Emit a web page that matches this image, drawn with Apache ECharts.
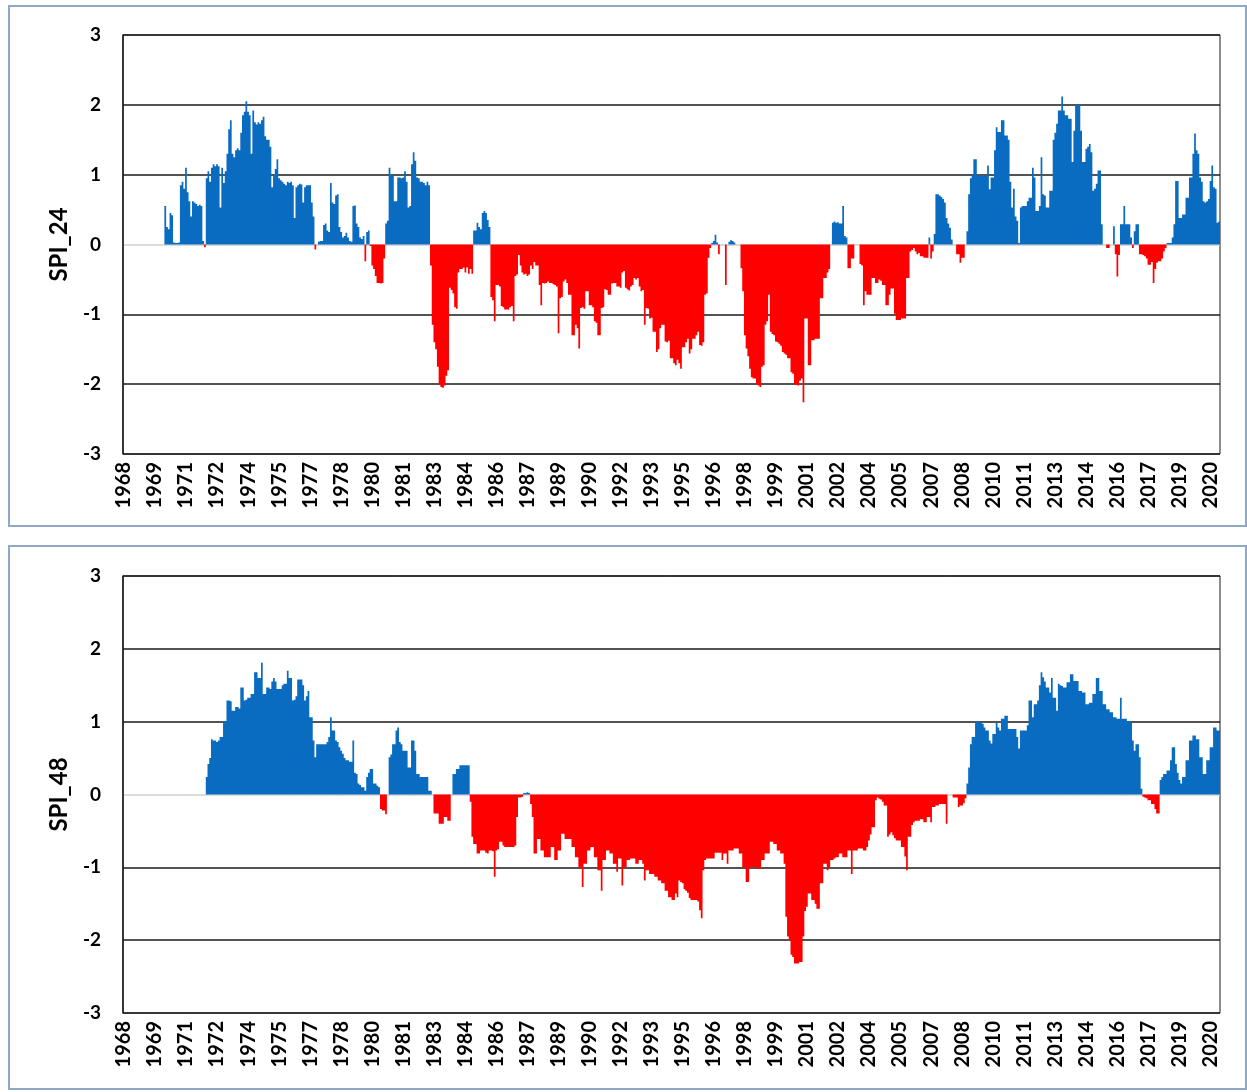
<!DOCTYPE html>
<html>
<head>
<meta charset="utf-8">
<title>SPI_24 / SPI_48</title>
<script src="https://cdn.jsdelivr.net/npm/echarts@6/dist/echarts.min.js"></script>
<style>
    body { margin: 0; background: #fff; }
    .panel { position: absolute; left: 8px; width: 1239px; box-sizing: border-box; border: 2px solid #8fa8c8; }
    #spi24 { top: 5px; height: 522px; }
    #spi48 { top: 545px; height: 545px; }
</style>
</head>
<body>
<div id="spi24" class="panel"></div>
<div id="spi48" class="panel"></div>
<script>
    /* 月份类目：1968.1 - 2020.12，每月一个，标签为年份 */
    const firstYear = 1968
    const lastYear = 2020
    let monthLabels = []
    for (let y = firstYear; y <= lastYear; y++) {
        for (let m = 0; m < 12; m++) monthLabels.push(String(y))
    }

    /* SPI_24 月值（每行一年，1-12月） */
    const spi24_1968_1979 = [
        [null, null, null, null, null, null, null, null, null, null, null, null],
        [null, null, null, null, null, null, null, null, null, null, null, null],
        [0.55, 0.25, 0.22, 0.45, 0.42, 0.03, 0.02, 0.02, 0.03, 0.85, 0.9, 0.8],
        [1.1, 0.75, 0.62, 0.4, 0.62, 0.6, 0.58, 0.55, 0.57, 0.55, 0.05, -0.04],
        [0.95, 1.05, 0.9, 1.1, 1.15, 1.12, 1.15, 1.12, 0.53, 1.1, 0.88, 1.05],
        [1.3, 1.65, 1.78, 1.3, 1.25, 1.35, 1.38, 1.35, 1.6, 1.85, 1.9, 2.05],
        [1.9, 1.85, 1.3, 1.92, 1.75, 1.72, 1.75, 1.73, 1.78, 1.83, 1.55, 1.5],
        [1.5, 1.4, 0.82, 1.0, 1.08, 1.22, 0.95, 0.92, 0.9, 0.87, 0.85, 0.9],
        [0.88, 0.9, 0.85, 0.38, 0.82, 0.85, 0.87, 0.86, 0.6, 0.82, 0.85, 0.85],
        [0.85, 0.6, 0.4, -0.07, 0.0, 0.04, 0.05, 0.05, 0.28, 0.3, 0.2, 0.18],
        [0.88, 0.6, 0.58, 0.7, 0.72, 0.25, 0.18, 0.1, 0.12, 0.17, 0.1, 0.05],
        [0.04, 0.55, 0.56, 0.3, 0.25, 0.1, 0.08, 0.12, -0.24, 0.18, 0.2, -0.02]
    ]
    const spi24_1980_1989 = [
        [-0.3, -0.35, -0.45, -0.55, -0.55, -0.56, -0.55, -0.2, 0.3, 0.34, 1.1, 1.0],
        [1.0, 0.62, 0.62, 0.96, 0.96, 0.95, 0.96, 1.05, 0.9, 0.53, 0.55, 1.15],
        [1.32, 1.2, 0.96, 0.95, 0.9, 0.9, 0.88, 0.85, 0.9, 0.85, -0.3, -1.15],
        [-1.4, -1.5, -1.75, -2.0, -2.04, -2.05, -2.02, -1.88, -1.8, -0.62, -0.65, -0.7],
        [-0.9, -0.92, -0.4, -0.35, -0.35, -0.33, -0.4, -0.33, -0.42, -0.35, -0.42, 0.2],
        [0.2, 0.31, 0.25, 0.22, 0.45, 0.48, 0.45, 0.35, 0.25, -0.75, -0.8, -1.1],
        [-0.58, -0.58, -0.6, -0.88, -0.9, -0.93, -0.93, -0.93, -0.9, -0.88, -1.1, -0.45],
        [-0.43, -0.15, -0.3, -0.4, -0.43, -0.42, -0.45, -0.43, -0.3, -0.35, -0.25, -0.3],
        [-0.3, -0.58, -0.87, -0.55, -0.56, -0.55, -0.53, -0.55, -0.55, -0.57, -0.58, -0.6],
        [-1.27, -0.77, -0.75, -0.53, -0.5, -0.55, -0.72, -0.72, -1.3, -1.3, -1.15, -1.2]
    ]
    const spi24_1990_1999 = [
        [-1.49, -0.91, -0.9, -0.92, -0.67, -0.67, -0.87, -0.87, -0.9, -1.1, -1.12, -1.3],
        [-1.3, -0.91, -0.9, -0.64, -0.65, -0.72, -0.72, -0.56, -0.55, -0.55, -0.6, -0.6],
        [-0.62, -0.4, -0.38, -0.62, -0.64, -0.66, -0.6, -0.58, -0.48, -0.5, -0.48, -0.6],
        [-0.67, -0.65, -1.15, -0.91, -0.92, -1.06, -1.05, -1.25, -1.25, -1.54, -1.5, -1.2],
        [-1.15, -1.15, -1.39, -1.4, -1.38, -1.63, -1.63, -1.7, -1.73, -1.65, -1.7, -1.78],
        [-1.47, -1.47, -1.4, -1.35, -1.56, -1.5, -1.35, -1.35, -1.3, -1.25, -1.44, -1.45],
        [-1.4, -0.72, -0.7, -0.19, -0.05, 0.02, 0.05, 0.14, 0.03, -0.14, 0.0, 0.0],
        [0.0, -0.58, 0.0, 0.04, 0.06, 0.05, 0.03, 0.0, 0.0, 0.0, -0.34, -0.67],
        [-1.3, -1.49, -1.6, -1.78, -1.9, -1.92, -1.92, -2.0, -2.02, -2.04, -1.75, -1.73],
        [-1.15, -1.1, -0.72, -1.25, -1.28, -1.3, -1.39, -1.4, -1.42, -1.45, -1.54, -1.56]
    ]
    const spi24_2000_2009 = [
        [-1.58, -1.63, -1.63, -1.83, -1.85, -2.0, -2.01, -2.02, -1.95, -1.92, -2.26, -1.06],
        [-1.06, -1.73, -1.73, -1.37, -1.37, -1.35, -1.35, -1.35, -0.77, -0.77, -0.48, -0.48],
        [-0.4, -0.35, 0.0, 0.31, 0.33, 0.31, 0.32, 0.3, 0.3, 0.55, 0.12, 0.1],
        [-0.34, -0.34, -0.2, -0.2, 0.0, 0.0, 0.0, -0.28, -0.3, -0.87, -0.67, -0.72],
        [-0.72, -0.72, -0.48, -0.48, -0.55, -0.55, -0.5, -0.52, -0.58, -0.58, -0.87, -0.87],
        [-0.72, -0.63, -0.63, -0.99, -1.08, -1.08, -1.08, -1.06, -1.06, -1.06, -0.48, -0.48],
        [-0.1, -0.08, -0.05, -0.1, -0.14, -0.12, -0.17, -0.17, -0.19, -0.19, -0.19, 0.1],
        [-0.2, -0.1, 0.15, 0.72, 0.72, 0.7, 0.68, 0.65, 0.6, 0.38, 0.3, 0.24],
        [0.07, 0.0, 0.0, -0.14, -0.14, -0.26, -0.19, -0.19, 0.0, 0.19, 0.72, 0.95],
        [1.0, 1.22, 1.22, 0.98, 0.98, 0.98, 1.0, 0.98, 0.98, 1.13, 0.79, 0.96]
    ]
    const spi24_2010_2020 = [
        [0.96, 1.35, 1.68, 1.61, 1.61, 1.78, 1.78, 1.56, 1.56, 1.5, 0.9, 0.53],
        [0.8, 0.4, 0.34, 0.02, 0.53, 0.55, 0.55, 0.55, 0.62, 0.67, 0.67, 1.1],
        [0.96, 0.48, 0.48, 0.55, 1.25, 0.72, 0.7, 0.53, 0.53, 0.77, 0.77, 1.5],
        [1.6, 1.73, 1.92, 1.92, 2.12, 1.92, 1.85, 1.85, 1.8, 1.8, 1.18, 1.63],
        [2.0, 2.0, 2.0, 1.63, 1.18, 1.18, 1.37, 1.4, 1.44, 1.32, 0.77, 0.8],
        [0.87, 1.06, 1.06, 0.29, 0.0, 0.0, -0.05, -0.05, 0.0, 0.0, 0.26, -0.14],
        [-0.46, -0.15, 0.29, 0.29, 0.55, 0.29, 0.29, 0.29, 0.1, -0.05, 0.19, 0.29],
        [0.29, -0.14, -0.14, -0.15, -0.17, -0.2, -0.29, -0.29, -0.25, -0.55, -0.35, -0.26],
        [-0.24, -0.24, -0.2, -0.1, -0.05, 0.02, 0.02, 0.02, 0.1, 0.29, 0.91, 0.91],
        [0.38, 0.38, 0.43, 0.43, 0.67, 0.67, 0.96, 0.96, 1.3, 1.59, 1.35, 1.3],
        [0.96, 0.9, 0.62, 0.6, 0.62, 0.65, 0.91, 1.13, 0.82, 0.8, 0.31, 0.33]
    ]

    /* SPI_48 月值 */
    const spi48_1968_1979 = [
        [null, null, null, null, null, null, null, null, null, null, null, null],
        [null, null, null, null, null, null, null, null, null, null, null, null],
        [null, null, null, null, null, null, null, null, null, null, null, null],
        [null, null, null, null, null, null, null, null, null, null, null, null],
        [0.24, 0.42, 0.5, 0.76, 0.74, 0.74, 0.72, 0.74, 0.79, 0.79, 1.01, 1.0],
        [1.29, 1.29, 1.28, 1.15, 1.15, 1.2, 1.2, 1.18, 1.47, 1.47, 1.29, 1.3],
        [1.33, 1.33, 1.38, 1.38, 1.68, 1.68, 1.6, 1.6, 1.81, 1.38, 1.38, 1.47],
        [1.47, 1.45, 1.55, 1.6, 1.55, 1.45, 1.45, 1.45, 1.5, 1.52, 1.52, 1.7],
        [1.6, 1.6, 1.29, 1.3, 1.35, 1.58, 1.58, 1.58, 1.5, 1.29, 1.35, 1.42],
        [1.06, 1.06, 0.74, 0.51, 0.69, 0.69, 0.69, 0.69, 0.69, 0.69, 0.72, 0.79],
        [1.06, 0.88, 0.88, 0.74, 0.72, 0.65, 0.6, 0.56, 0.5, 0.47, 0.47, 0.45],
        [0.45, 0.74, 0.3, 0.28, 0.15, 0.13, 0.1, 0.1, 0.05, 0.24, 0.3, 0.35]
    ]
    const spi48_1980_1989 = [
        [0.35, 0.15, 0.15, 0.12, 0.1, -0.2, -0.22, -0.22, -0.27, 0.0, 0.51, 0.55],
        [0.69, 0.69, 0.88, 0.92, 0.72, 0.69, 0.6, 0.6, 0.6, 0.37, 0.37, 0.74],
        [0.74, 0.6, 0.28, 0.28, 0.24, 0.24, 0.24, 0.24, 0.24, 0.05, 0.05, 0.0],
        [-0.26, -0.26, -0.26, -0.4, -0.4, -0.4, -0.31, -0.31, -0.36, -0.36, 0.0, 0.28],
        [0.28, 0.35, 0.35, 0.4, 0.4, 0.4, 0.4, 0.4, 0.4, -0.1, -0.58, -0.68],
        [-0.68, -0.81, -0.81, -0.77, -0.77, -0.77, -0.8, -0.81, -0.77, -0.77, -0.78, -1.13],
        [-0.77, -0.75, -0.65, -0.65, -0.7, -0.72, -0.72, -0.72, -0.72, -0.72, -0.72, -0.7],
        [-0.31, -0.04, -0.04, -0.03, 0.02, 0.02, 0.03, 0.02, -0.13, -0.31, -0.81, -0.81],
        [-0.61, -0.61, -0.77, -0.77, -0.86, -0.86, -0.86, -0.86, -0.72, -0.72, -0.9, -0.9],
        [-0.77, -0.77, -0.54, -0.54, -0.61, -0.61, -0.61, -0.61, -0.72, -0.72, -0.86, -0.86]
    ]
    const spi48_1990_1999 = [
        [-1.0, -1.0, -1.27, -0.95, -0.95, -0.77, -0.77, -0.72, -0.72, -0.86, -0.86, -1.04],
        [-1.04, -1.32, -0.9, -0.9, -0.77, -0.77, -0.81, -0.81, -0.95, -0.95, -1.06, -0.88],
        [-0.88, -1.25, -1.0, -1.0, -0.9, -0.9, -0.88, -0.88, -0.88, -0.95, -0.95, -0.9],
        [-0.9, -0.95, -1.18, -1.04, -1.04, -1.09, -1.09, -1.09, -1.13, -1.13, -1.18, -1.18],
        [-1.22, -1.22, -1.32, -1.32, -1.41, -1.41, -1.45, -1.45, -1.36, -1.41, -1.18, -1.2],
        [-1.22, -1.3, -1.32, -1.35, -1.42, -1.45, -1.45, -1.45, -1.45, -1.47, -1.59, -1.7],
        [-1.04, -0.9, -0.88, -0.88, -0.88, -0.88, -0.88, -0.8, -0.8, -0.8, -0.8, -0.9],
        [-0.81, -0.81, -0.95, -0.77, -0.77, -0.77, -0.74, -0.74, -0.74, -0.81, -0.81, -1.0],
        [-1.0, -1.2, -1.2, -1.0, -1.0, -1.0, -1.0, -1.0, -1.02, -1.02, -0.9, -0.9],
        [-0.81, -0.81, -0.81, -0.65, -0.65, -0.68, -0.68, -0.77, -0.77, -0.81, -0.81, -0.95]
    ]
    const spi48_2000_2009 = [
        [-1.68, -1.95, -2.0, -2.2, -2.23, -2.32, -2.32, -2.32, -2.3, -2.3, -1.95, -1.6],
        [-1.54, -1.36, -1.36, -1.45, -1.45, -1.5, -1.57, -1.57, -1.22, -1.22, -0.95, -0.95],
        [-1.04, -1.0, -0.9, -0.9, -0.88, -0.86, -0.86, -0.81, -0.81, -0.86, -0.86, -0.86],
        [-0.77, -0.77, -1.09, -0.77, -0.77, -0.77, -0.74, -0.74, -0.74, -0.77, -0.77, -0.72],
        [-0.63, -0.55, -0.45, -0.45, -0.08, -0.04, -0.06, -0.07, -0.1, -0.15, -0.15, -0.58],
        [-0.55, -0.52, -0.56, -0.6, -0.63, -0.63, -0.63, -0.72, -0.72, -0.85, -1.04, -0.58],
        [-0.58, -0.42, -0.38, -0.36, -0.36, -0.36, -0.34, -0.34, -0.38, -0.38, -0.31, -0.31],
        [-0.38, -0.17, -0.17, -0.15, -0.15, -0.13, -0.13, -0.13, -0.13, -0.4, 0.0, 0.0],
        [0.0, -0.04, -0.04, -0.04, -0.17, -0.15, -0.15, -0.12, -0.05, 0.15, 0.37, 0.69],
        [0.79, 0.79, 1.0, 1.01, 0.99, 0.99, 0.97, 0.92, 0.88, 0.88, 0.74, 0.7]
    ]
    const spi48_2010_2020 = [
        [0.83, 0.83, 0.99, 0.92, 0.88, 1.04, 1.04, 1.08, 1.08, 0.9, 0.9, 0.9],
        [0.9, 0.9, 0.79, 0.63, 0.88, 0.88, 0.88, 0.88, 0.95, 1.29, 1.29, 1.06],
        [1.24, 1.24, 1.29, 1.5, 1.68, 1.61, 1.55, 1.47, 1.47, 1.4, 1.6, 1.33],
        [1.33, 1.15, 1.52, 1.5, 1.49, 1.47, 1.47, 1.54, 1.54, 1.65, 1.65, 1.56],
        [1.56, 1.56, 1.42, 1.42, 1.4, 1.4, 1.24, 1.24, 1.26, 1.26, 1.38, 1.38],
        [1.6, 1.6, 1.42, 1.42, 1.24, 1.24, 1.17, 1.17, 1.13, 1.13, 1.06, 1.06],
        [1.04, 1.04, 1.33, 1.04, 1.04, 1.04, 1.01, 1.01, 0.99, 0.74, 0.6, 0.69],
        [0.69, 0.51, 0.08, -0.03, -0.04, -0.05, -0.08, -0.08, -0.13, -0.13, -0.2, -0.26],
        [-0.26, 0.2, 0.24, 0.28, 0.28, 0.33, 0.33, 0.47, 0.65, 0.65, 0.42, 0.3],
        [0.2, 0.15, 0.24, 0.24, 0.47, 0.47, 0.74, 0.74, 0.81, 0.81, 0.76, 0.76],
        [0.51, 0.51, 0.28, 0.28, 0.47, 0.47, 0.65, 0.65, 0.92, 0.92, 0.88, 0.88]
    ]

    const spi24 = [].concat(spi24_1968_1979, spi24_1980_1989, spi24_1990_1999, spi24_2000_2009, spi24_2010_2020).flat()
    const spi48 = [].concat(spi48_1968_1979, spi48_1980_1989, spi48_1990_1999, spi48_2000_2009, spi48_2010_2020).flat()

    const yTicks = [-3, -2, -1, 0, 1, 2, 3]
    const wetColor = '#0a6cc0'
    const dryColor = '#ff0000'

    /* 公共绘图方法 */
    function drawSPI (id, name, values, top, height) {
        const chart = echarts.init(document.getElementById(id))
        // 零线为浅灰，其余网格线黑色
        let lineColors = yTicks.map((v) => v === 0 ? '#cfcfcf' : '#1a1a1a')
        // 正值蓝色、负值红色，分成两个系列
        let wet = values.map((v) => v !== null && v >= 0 ? v : '-')
        let dry = values.map((v) => v !== null && v < 0 ? v : '-')
        const font = { fontFamily: 'Lato', fontWeight: 'bold', color: '#000' }
        chart.setOption({
            animation: false,
            grid: {
                left: 113,
                top: top,
                width: 1097,
                height: height,
                show: true,
                borderColor: '#1a1a1a',
                borderWidth: 1
            },
            xAxis: {
                type: 'category',
                data: monthLabels,
                axisLine: { show: false, onZero: false },
                axisTick: { show: false },
                axisLabel: Object.assign({ interval: 17, rotate: 90, margin: 8, fontSize: 20 }, font)
            },
            yAxis: {
                type: 'value',
                min: -3,
                max: 3,
                interval: 1,
                name: name,
                nameLocation: 'middle',
                nameRotate: 90,
                nameGap: 52,
                nameTextStyle: Object.assign({ fontSize: 24 }, font),
                axisLine: { show: true, lineStyle: { color: '#1a1a1a', width: 1.5 } },
                axisTick: { show: false },
                axisLabel: Object.assign({ margin: 22, fontSize: 19 }, font),
                splitLine: { lineStyle: { color: lineColors, width: 1.5 } }
            },
            // large 模式下整列一次描边，相邻柱之间不会出现白缝
            series: [
                {
                    type: 'bar',
                    stack: 'spi',
                    large: true,
                    largeThreshold: 100,
                    data: wet,
                    barCategoryGap: '0%',
                    itemStyle: { color: wetColor }
                },
                {
                    type: 'bar',
                    stack: 'spi',
                    large: true,
                    largeThreshold: 100,
                    data: dry,
                    barCategoryGap: '0%',
                    itemStyle: { color: dryColor }
                }
            ]
        })
    }

    drawSPI('spi24', 'SPI_24', spi24, 28, 419)
    drawSPI('spi48', 'SPI_48', spi48, 29, 437)
</script>
</body>
</html>
